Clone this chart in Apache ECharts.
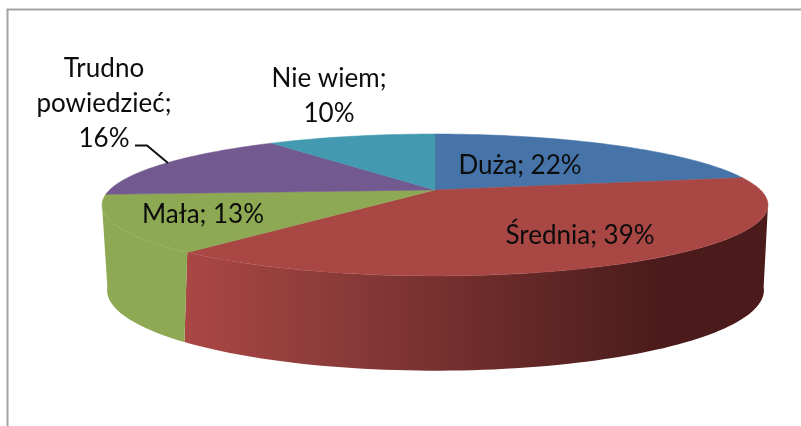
<!DOCTYPE html>
<html>
<head>
<meta charset="utf-8">
<title>Wykres</title>
<style>
  html, body { margin: 0; padding: 0; background: #fff; }
  #chart { width: 801px; height: 426px; }
</style>
<script src="https://cdn.jsdelivr.net/npm/echarts@6/dist/echarts.min.js"></script>
</head>
<body>
<div id="chart"></div>
<script>
// dane
const categories = ['Duża', 'Średnia', 'Mała', 'Trudno\npowiedzieć', 'Nie wiem'];
const values = [22, 39, 13, 16, 10];
const labelBreaks = [' ', ' ', ' ', '\n', '\n'];

const topColors = ['#4674a8', '#a94745', '#8ea954', '#72598f', '#4299b0'];
const labelPositions = [[520, 166], [580, 236], [203, 215], [104, 104], [329, 96]];

// rzut perspektywiczny koła: gorna i dolna krawedz tortu
const topRim = { x: 435, y: 190, a: 325.5, b: 67.8, k: 0.211 };
const bottomRim = { x: 435.5, y: 270, a: 318, b: 75.5, k: 0.25 };
// zakres katow widocznej sciany bocznej (stopnie od godziny 12)
const wallFrom = 102.2;
const wallTo = 257.8;

const total = values.reduce((s, v) => s + v, 0);
const starts = [];
values.reduce((s, v, i) => { starts[i] = s; return s + v; }, 0);

function toAngle(v) {
	return v / total * 360;
}

function project(rim, deg) {
	const t = deg * Math.PI / 180;
	const X = Math.sin(t);
	const Y = Math.cos(t);
	const w = 1 + rim.k * Y;
	return [rim.x + rim.a * X / w, rim.y - rim.b * Y / w];
}

function arcPoints(rim, from, to) {
	const pts = [];
	const n = Math.max(2, Math.ceil((to - from) / 1.5));
	for (let i = 0; i <= n; i++) {
		pts.push(project(rim, from + (to - from) * i / n));
	}
	return pts;
}

function wallFill(i) {
	if (i !== 1) return topColors[i];
	// sciana czerwona ciemnieje w prawo
	return new echarts.graphic.LinearGradient(1, 0, 0, 0, [
		{ offset: 0, color: '#4a1b1a' },
		{ offset: 0.18, color: '#4a1b1a' },
		{ offset: 0.3, color: '#572221' },
		{ offset: 0.5, color: '#6e2d2b' },
		{ offset: 0.72, color: '#893a38' },
		{ offset: 1, color: '#aa4745' }
	]);
}

function renderWall(params, api) {
	const i = api.value(0);
	const from = Math.max(toAngle(starts[i]), wallFrom);
	const to = Math.min(toAngle(starts[i] + api.value(1)), wallTo);
	if (to <= from) return null;
	const points = arcPoints(topRim, from, to).concat(arcPoints(bottomRim, from, to).reverse());
	return { type: 'polygon', shape: { points: points }, style: { fill: wallFill(i) } };
}

function renderTop(params, api) {
	const i = api.value(0);
	const from = toAngle(starts[i]);
	const to = toAngle(starts[i] + api.value(1));
	const points = [[topRim.x, topRim.y]].concat(arcPoints(topRim, from, to));
	return {
		type: 'polygon',
		shape: { points: points },
		style: { fill: topColors[i], stroke: topColors[i], lineWidth: 0.5 }
	};
}

function renderLabel(params, api) {
	const i = api.value(0);
	return {
		type: 'text',
		style: {
			text: categories[i] + ';' + labelBreaks[i] + api.value(1) + '%',
			x: labelPositions[i][0],
			y: labelPositions[i][1],
			fill: '#0c0c0c',
			font: '26px Lato',
			lineHeight: 35,
			align: 'center',
			verticalAlign: 'middle'
		}
	};
}

const seriesData = values.map((v, i) => [i, v]);

const chart = echarts.init(document.getElementById('chart'));
chart.setOption({
	animation: false,
	backgroundColor: '#fff',
	graphic: [
		{
			// ramka obszaru wykresu, ucieta z prawej i u dolu
			type: 'polyline',
			silent: true,
			shape: { points: [[7.5, 426], [7.5, 9.5], [801, 9.5]] },
			style: { stroke: '#a3a3a3', lineWidth: 2, fill: null }
		},
		{
			// linia odniesienia etykiety 16%
			type: 'polyline',
			silent: true,
			z: 10,
			shape: { points: [[135, 145.5], [147, 145.5], [168, 163]] },
			style: { stroke: '#111', lineWidth: 2, fill: null }
		}
	],
	series: [
		{ type: 'custom', coordinateSystem: 'none', silent: true, renderItem: renderWall, data: seriesData },
		{ type: 'custom', coordinateSystem: 'none', silent: true, renderItem: renderTop, data: seriesData },
		{ type: 'custom', coordinateSystem: 'none', silent: true, renderItem: renderLabel, data: seriesData }
	]
});
</script>
</body>
</html>
